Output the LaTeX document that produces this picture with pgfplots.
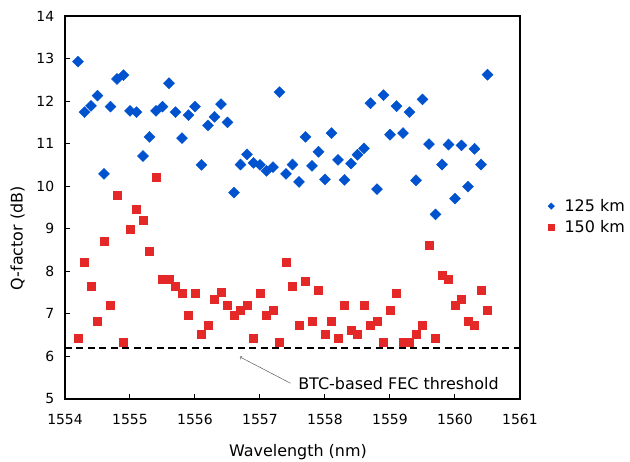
\documentclass[border=0pt]{standalone}
\usepackage{pgfplots}
\pgfplotsset{compat=1.18}
\usepackage{fontspec}
\setmainfont{DejaVu Sans}
\definecolor{qblue}{RGB}{0,82,206}
\definecolor{qred}{RGB}{228,40,40}
\begin{document}
\fontsize{14}{16}\selectfont
\begin{tikzpicture}
\useasboundingbox (-65bp,-63bp) rectangle (565bp,399bp);
\begin{axis}[
  scale only axis, width=455bp, height=383bp,
  xmin=1554, xmax=1561, ymin=5, ymax=14,
  xtick={1554,...,1561}, ytick={5,...,14},
  xtick pos=left, ytick pos=left, tick align=inside,
  major tick length=5bp,
  axis line style={line width=1.3pt},
  every tick/.style={line width=1pt, black},
  /pgf/number format/.cd, 1000 sep={}, assume math mode=true,
  /pgfplots/.cd,
  ticklabel style={font=\fontsize{14}{16}\selectfont},
  xticklabel style={yshift=-10bp},
  yticklabel style={xshift=-6bp},
  xlabel={Wavelength (nm)}, ylabel={Q-factor (dB)},
  label style={font=\fontsize{16}{18}\selectfont},
  xlabel style={at={(axis description cs:0.512,0)}, anchor=center, yshift=-53bp},
  ylabel style={at={(axis description cs:0,0.42)}, anchor=center, rotate=0, yshift=47.5bp},
  legend style={draw=none, at={(1.061,0.476)}, anchor=west, font=\fontsize{16}{18}\selectfont, row sep=3bp, inner sep=0pt, /tikz/column 1/.style={column sep=8bp}},
  legend image post style={mark size=3.3bp},
  legend cell align=left,
  clip=false,
]
\addplot[only marks, mark=diamond*, mark size=5.5bp, color=qblue, mark options={xscale=1.33}] coordinates {
(1554.2,12.93)(1554.3,11.74)(1554.4,11.89)(1554.5,12.13)(1554.6,10.29)(1554.7,11.87)(1554.8,12.52)(1554.9,12.61)
(1555.0,11.77)(1555.1,11.74)(1555.2,10.71)(1555.3,11.16)(1555.4,11.77)(1555.5,11.87)(1555.6,12.42)(1555.7,11.74)(1555.8,11.13)(1555.9,11.67)
(1556.0,11.87)(1556.1,10.50)(1556.2,11.43)(1556.3,11.63)(1556.4,11.93)(1556.5,11.50)(1556.6,9.85)(1556.7,10.51)(1556.8,10.75)(1556.9,10.55)
(1557.0,10.50)(1557.1,10.36)(1557.2,10.45)(1557.3,12.21)(1557.4,10.29)(1557.5,10.51)(1557.6,10.10)(1557.7,11.16)(1557.8,10.48)(1557.9,10.81)
(1558.0,10.16)(1558.1,11.25)(1558.2,10.62)(1558.3,10.15)(1558.4,10.53)(1558.5,10.74)(1558.6,10.89)(1558.7,11.95)(1558.8,9.93)(1558.9,12.14)
(1559.0,11.21)(1559.1,11.88)(1559.2,11.25)(1559.3,11.74)(1559.4,10.14)(1559.5,12.04)(1559.6,10.99)(1559.7,9.34)(1559.8,10.51)(1559.9,10.98)
(1560.0,9.71)(1560.1,10.96)(1560.2,9.99)(1560.3,10.88)(1560.4,10.51)(1560.5,12.62)
};
\addlegendentry{125 km}
\addplot[only marks, mark=square*, mark size=4bp, color=qred] coordinates {
(1554.2,6.43)(1554.3,8.22)(1554.4,7.64)(1554.5,6.83)(1554.6,8.71)(1554.7,7.20)(1554.8,9.80)(1554.9,6.34)
(1555.0,8.98)(1555.1,9.45)(1555.2,9.19)(1555.3,8.48)(1555.4,10.22)(1555.5,7.81)(1555.6,7.81)(1555.7,7.64)(1555.8,7.48)(1555.9,6.96)
(1556.0,7.48)(1556.1,6.53)(1556.2,6.73)(1556.3,7.34)(1556.4,7.52)(1556.5,7.20)(1556.6,6.96)(1556.7,7.08)(1556.8,7.20)(1556.9,6.43)
(1557.0,7.48)(1557.1,6.96)(1557.2,7.08)(1557.3,6.34)(1557.4,8.22)(1557.5,7.64)(1557.6,6.73)(1557.7,7.76)(1557.8,6.83)(1557.9,7.55)
(1558.0,6.53)(1558.1,6.83)(1558.2,6.43)(1558.3,7.20)(1558.4,6.62)(1558.5,6.53)(1558.6,7.20)(1558.7,6.73)(1558.8,6.83)(1558.9,6.34)
(1559.0,7.08)(1559.1,7.48)(1559.2,6.34)(1559.3,6.34)(1559.4,6.53)(1559.5,6.73)(1559.6,8.62)(1559.7,6.43)(1559.8,7.91)(1559.9,7.81)
(1560.0,7.20)(1560.1,7.34)(1560.2,6.83)(1560.3,6.73)(1560.4,7.55)(1560.5,7.08)
};
\addlegendentry{150 km}
\addplot[black, line width=1.6pt, dash pattern=on 7bp off 4.5bp, forget plot] coordinates {(1554,6.2)(1561,6.2)};
\draw[->, gray!70!black, line width=0.5pt] (axis cs:1557.47,5.37) -- (axis cs:1556.69,5.99);
\node[anchor=center, font=\fontsize{16}{18}\selectfont] at (axis cs:1559.13,5.36) {BTC-based FEC threshold};
\end{axis}
\end{tikzpicture}
\end{document}
